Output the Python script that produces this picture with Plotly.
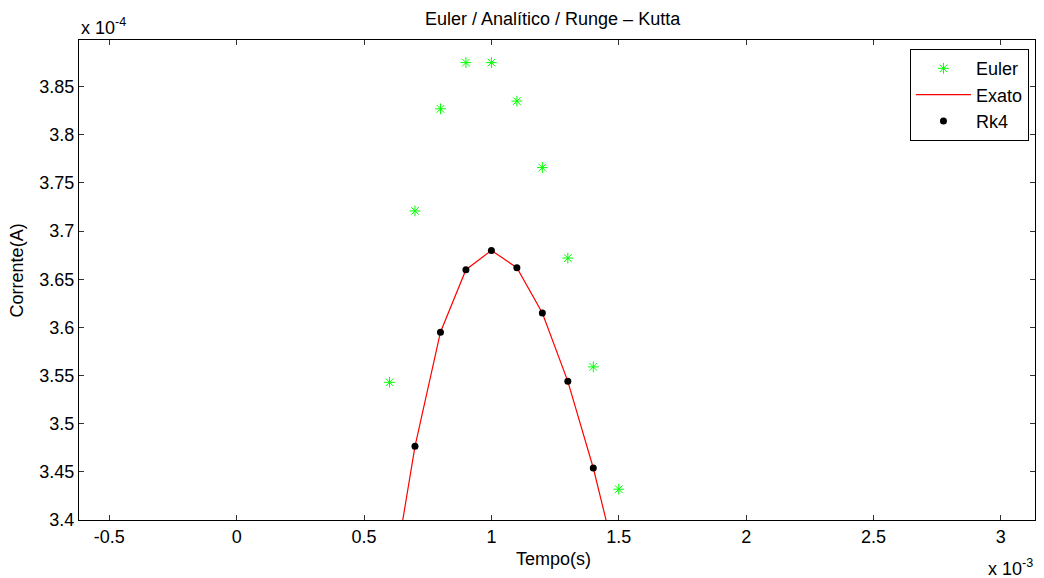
import plotly.graph_objects as go

# Time in units of 1e-3 s, current in units of 1e-4 A
t_euler = [0.6, 0.7, 0.8, 0.9, 1.0, 1.1, 1.2, 1.3, 1.4, 1.5]
i_euler = [3.543, 3.721, 3.827, 3.875, 3.875, 3.835, 3.766, 3.672, 3.559, 3.432]

t_exato = [0.6, 0.7, 0.8, 0.9, 1.0, 1.1, 1.2, 1.3, 1.4, 1.5]
i_exato = [3.317, 3.4765, 3.595, 3.660, 3.680, 3.662, 3.615, 3.544, 3.454, 3.346]

t_rk4 = [0.6, 0.7, 0.8, 0.9, 1.0, 1.1, 1.2, 1.3, 1.4, 1.5]
i_rk4 = [3.317, 3.4765, 3.595, 3.660, 3.680, 3.662, 3.615, 3.544, 3.454, 3.346]

x_ticks = [-0.5, 0, 0.5, 1, 1.5, 2, 2.5, 3]
x_ticklabels = ["-0.5", "0", "0.5", "1", "1.5", "2", "2.5", "3"]
y_ticks = [3.4, 3.45, 3.5, 3.55, 3.6, 3.65, 3.7, 3.75, 3.8, 3.85]
y_ticklabels = ["3.4", "3.45", "3.5", "3.55", "3.6", "3.65", "3.7", "3.75", "3.8", "3.85"]

FONT = "Liberation Sans, Arial, sans-serif"
FS = 18

fig = go.Figure()
fig.add_trace(go.Scatter(
    x=t_euler, y=i_euler, mode="markers", name="Euler", legendgroup="a",
    marker=dict(symbol="asterisk-open", size=9, color="#00ff00",
                line=dict(color="#00ff00", width=1))))
fig.add_trace(go.Scatter(
    x=t_exato, y=i_exato, mode="lines", name="Exato", legendgroup="b",
    line=dict(color="#ff0000", width=1.2)))
fig.add_trace(go.Scatter(
    x=t_rk4, y=i_rk4, mode="markers", name="Rk4", legendgroup="c",
    marker=dict(symbol="circle", size=7, color="#000000")))

axis_common = dict(
    showgrid=False, zeroline=False, showline=True, linecolor="black", linewidth=1,
    mirror="ticks", ticks="inside", ticklen=5, tickcolor="#333333", tickwidth=1,
    tickfont=dict(family=FONT, size=FS, color="black"),
)

fig.update_layout(
    width=1044, height=578,
    margin=dict(l=79, r=9, t=40, b=58),
    paper_bgcolor="white", plot_bgcolor="white",
    showlegend=True,
    legend=dict(x=0.9937, y=0.981, xanchor="right", yanchor="top",
                bordercolor="black", borderwidth=1, bgcolor="white",
                font=dict(family=FONT, size=FS, color="black"),
                tracegroupgap=0, itemwidth=55),
    xaxis=dict(range=[-0.619, 3.134], tickvals=x_ticks, ticktext=x_ticklabels, **axis_common),
    yaxis=dict(range=[3.4, 3.8985], tickvals=y_ticks, ticktext=y_ticklabels, **axis_common),
    annotations=[
        dict(text="Euler / Analítico / Runge – Kutta", xref="paper", yref="paper",
             x=0.496, y=1.0, yshift=9, xanchor="center", yanchor="bottom", showarrow=False,
             font=dict(family=FONT, size=FS, color="black")),
        dict(text="Tempo(s)", xref="paper", yref="paper", x=0.496, y=0, yshift=-27,
             xanchor="center", yanchor="top", showarrow=False,
             font=dict(family=FONT, size=FS, color="black")),
        dict(text="Corrente(A)", xref="paper", yref="paper", x=0, xshift=-62, y=0.52,
             xanchor="center", yanchor="middle", textangle=-90, showarrow=False,
             font=dict(family=FONT, size=FS, color="black")),
        dict(text="x 10<sup>-4</sup>", xref="paper", yref="paper", x=0, y=1, yshift=0,
             xanchor="left", yanchor="bottom", showarrow=False,
             font=dict(family=FONT, size=FS, color="black")),
        dict(text="x 10<sup>-3</sup>", xref="paper", yref="paper", x=1, y=0, yshift=-34,
             xanchor="right", yanchor="top", showarrow=False,
             font=dict(family=FONT, size=FS, color="black")),
    ],
)

fig.write_html("out.html")
